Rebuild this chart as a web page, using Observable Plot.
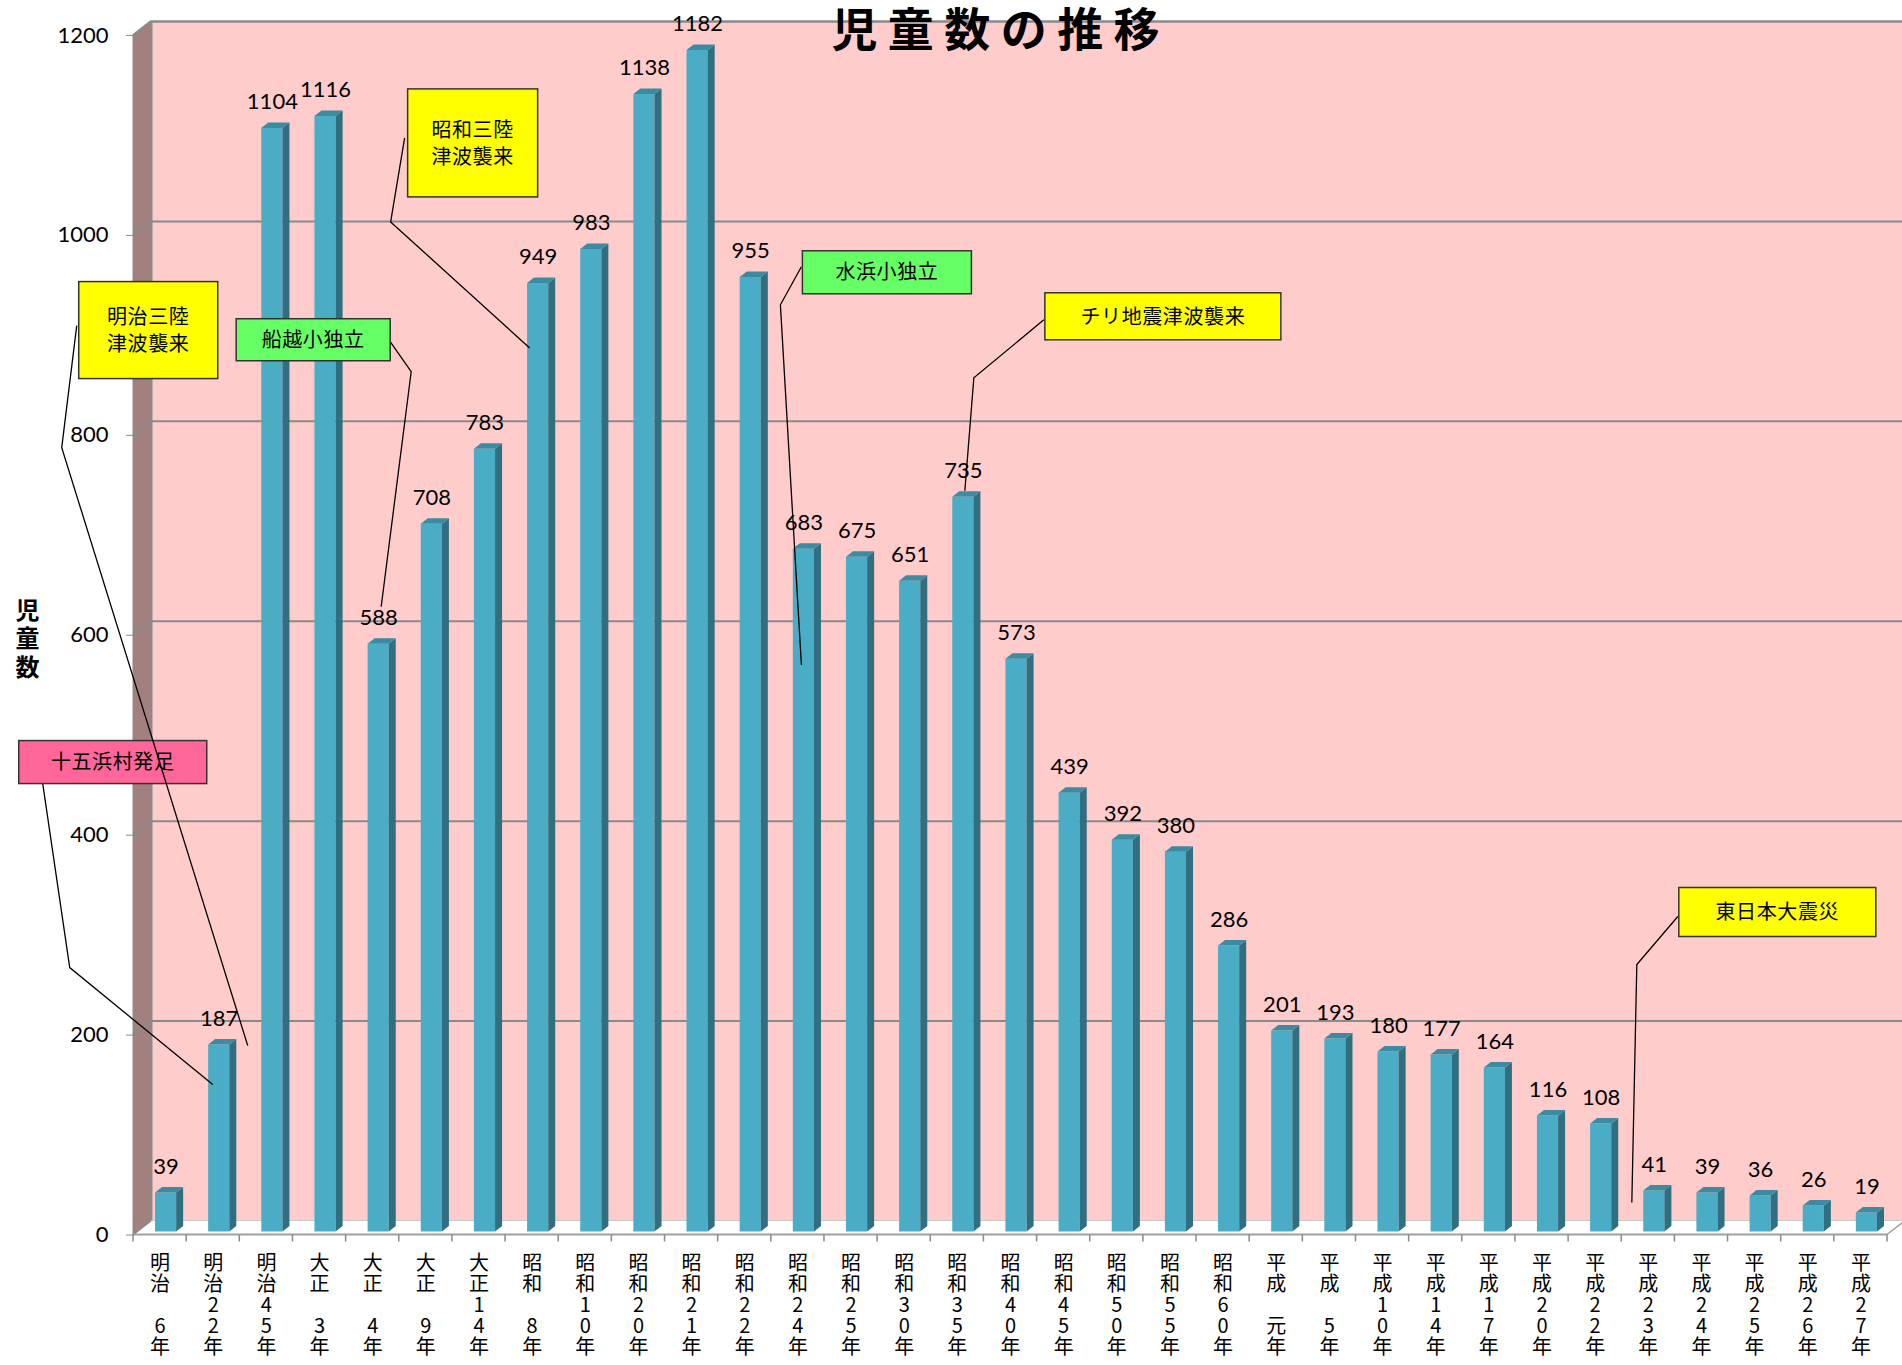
<!DOCTYPE html>
<html>
<head>
<meta charset="utf-8">
<script src="https://cdn.jsdelivr.net/npm/d3@7"></script>
<script src="https://cdn.jsdelivr.net/npm/@observablehq/plot@0.6"></script>
<style>
  html, body { margin: 0; padding: 0; background: #ffffff; }
  #chart svg { display: block; }
</style>
</head>
<body>
<div id="chart"></div>
<script>
// ---- data ----
const categories = ["明治6年","明治22年","明治45年","大正3年","大正4年","大正9年","大正14年","昭和8年","昭和10年","昭和20年","昭和21年","昭和22年","昭和24年","昭和25年","昭和30年","昭和35年","昭和40年","昭和45年","昭和50年","昭和55年","昭和60年","平成元年","平成5年","平成10年","平成14年","平成17年","平成20年","平成22年","平成23年","平成24年","平成25年","平成26年","平成27年"];
const counts = [39,187,1104,1116,588,708,783,949,983,1138,1182,955,683,675,651,735,573,439,392,380,286,201,193,180,177,164,116,108,41,39,36,26,19];
const yTicks = [0,200,400,600,800,1000,1200];
const titleText = "児 童 数 の 推 移";
const yLabelText = "児\n童\n数";

// callouts: anchor category/value; pixel offsets from the anchor for box and leader
const noteTexts = [["十五浜村発足"],["明治三陸","津波襲来"],["船越小独立"],["昭和三陸","津波襲来"],["水浜小独立"],["チリ地震津波襲来"],["東日本大震災"]];
const noteCats = ["明治22年","明治22年","大正4年","昭和8年","昭和24年","昭和35年","平成23年"];
const noteValues = [150,187,588,949,683,735,0];
const noteFills = ["#ff6699","#ffff00","#66ff66","#ffff00","#66ff66","#ffff00","#ffff00"];
const noteBoxes = [[-194,-344,188,43],[-134,-766,139,97],[-136,-328,154,42],[-124,-197,130,108],[5,-301,169,43],[88,-207,236,47],[31,-347,197,49]];
const notePaths = [
  [[-170,-301],[-143,-117],[0,0]],
  [[-136,-722],[-151,-600],[35,-2]],
  [[18,-305],[39,-275],[9,-40]],
  [[-127,-148],[-141,-64],[-2,62]],
  [[4,-285],[-17,-247],[4,113]],
  [[87,-180],[17,-122],[8,-9]],
  [[30,-318],[-11,-270],[-16,-32]]
];

const data = categories.map((c, i) => ({cat: c, n: counts[i]}));

// ---- geometry / style constants ----
const W = 1902, H = 1365;
const mL = 133, mR = 15, mT = 35, mB = 130.5;
const wallDX = 18, wallDY = -14;      // 3D depth of the walls
const barDX = 6, barDY = -3, barInset = 16;
const depthX = 7, depthY = -5.5;       // 3D depth of each column
const gridColor = "#8a8a8a";
const numFont = "Lato, 'Open Sans', sans-serif";
const jpFont = "'Noto Sans CJK JP', 'Noto Sans', sans-serif";

function vertical(c) {
  const m = c.match(/^(..)(.+)年$/);
  const chars = [...m[2]];
  if (chars.length === 1) chars.unshift(" ");
  return [m[1][0], m[1][1], ...chars, "年"].join("\n");
}

const chart = Plot.plot({
  width: W, height: H,
  marginLeft: mL, marginRight: mR, marginTop: mT, marginBottom: mB,
  style: {background: "transparent", fontFamily: numFont, color: "#000"},
  x: {domain: categories, padding: 0, round: false, axis: null},
  y: {domain: [0, 1200], axis: null},
  marks: [
    Plot.frame({fill: "#ffcccc", stroke: gridColor, strokeWidth: 2, dx: wallDX, dy: wallDY}),
    Plot.ruleY(yTicks, {stroke: gridColor, strokeWidth: 2, dx: wallDX, dy: wallDY}),
    Plot.barY(data, {x: "cat", y: "n", fill: "#4bacc6", insetLeft: barInset, insetRight: barInset, dx: barDX, dy: barDY}),
    Plot.text(data, {x: "cat", y: "n", text: d => String(d.n), dx: barDX, dy: barDY - 19, lineAnchor: "bottom", fontSize: 22, fontFamily: numFont, fill: "#000"}),
    Plot.axisY({ticks: yTicks, tickFormat: d => String(d), tickSize: 7, tickPadding: 18, fontSize: 22, fontFamily: numFont, stroke: gridColor, fill: "#000", label: null}),
    Plot.axisX({tickSize: 0, tickPadding: 20, fontSize: 20, lineHeight: 1.05, fontFamily: jpFont, fill: "#000", tickFormat: vertical, label: null}),
    Plot.text([titleText], {text: d => d, frameAnchor: "top", dx: -15, dy: -4, lineAnchor: "middle", textAnchor: "middle", fontSize: 46, fontWeight: "bold", fontFamily: jpFont, fill: "#000"}),
    Plot.text([yLabelText], {text: d => d, frameAnchor: "left", dx: -106, dy: 3, lineAnchor: "middle", textAnchor: "middle", fontSize: 24, fontWeight: "bold", lineHeight: 1.2, fontFamily: jpFont, fill: "#000"})
  ]
});
document.getElementById("chart").appendChild(chart);

// ---- 3D decorations using the plot's own scales ----
const sx = chart.scale("x"), sy = chart.scale("y");
const bw = sx.bandwidth;
const xs = sx.apply ? (c => sx.apply(c)) : d3.scaleBand(sx.domain, sx.range).padding(0);
const ys = sy.apply ? (v => sy.apply(v)) : d3.scaleLinear(sy.domain, sy.range);
const x0 = xs(categories[0]);
const x1 = xs(categories[categories.length - 1]) + bw;
const Y0 = ys(0), Ytop = ys(1200);
const svg = d3.select(chart.tagName.toLowerCase() === "svg" ? chart : chart.querySelector("svg"));
const pts = a => a.map(p => p.join(",")).join(" ");

// walls & floor, placed right after the gridlines
const ruleNode = svg.node().querySelector('g[aria-label="rule"]');
const walls = svg.append("g").attr("class", "walls");
if (ruleNode) ruleNode.after(walls.node());
walls.append("polygon")
  .attr("points", pts([[x0, Y0], [x0, Ytop], [x0 + wallDX, Ytop + wallDY], [x0 + wallDX, Y0 + wallDY]]))
  .attr("fill", "#a2807e").attr("stroke", gridColor).attr("stroke-width", 1);
walls.append("polygon")
  .attr("points", pts([[x0, Y0], [x1, Y0], [x1 + wallDX, Y0 + wallDY], [x0 + wallDX, Y0 + wallDY]]))
  .attr("fill", "#ffffff").attr("stroke", "#c8c8c8").attr("stroke-width", 1);
walls.append("line").attr("x1", x0).attr("x2", x1).attr("y1", Y0).attr("y2", Y0)
  .attr("stroke", "#a0a0a0").attr("stroke-width", 2);
walls.append("line").attr("x1", x1).attr("x2", x1 + wallDX).attr("y1", Y0).attr("y2", Y0 + wallDY)
  .attr("stroke", "#a0a0a0").attr("stroke-width", 1.5);
yTicks.forEach(v => {
  walls.append("line").attr("x1", x0).attr("y1", ys(v)).attr("x2", x0 + wallDX).attr("y2", ys(v) + wallDY)
    .attr("stroke", gridColor).attr("stroke-width", 2);
});
d3.range(categories.length + 1).forEach(i => {
  const bx = x0 + i * bw;
  walls.append("line").attr("x1", bx).attr("x2", bx).attr("y1", Y0).attr("y2", Y0 + 7)
    .attr("stroke", gridColor).attr("stroke-width", 1.5);
});

// column side and top faces
const barNode = svg.node().querySelector('g[aria-label="bar"]');
const faces = svg.append("g").attr("class", "faces");
if (barNode) barNode.after(faces.node());
data.forEach(d => {
  const fx0 = xs(d.cat) + barInset + barDX;
  const fx1 = xs(d.cat) + bw - barInset + barDX;
  const fy0 = ys(d.n) + barDY;
  const fy1 = ys(0) + barDY;
  faces.append("polygon")
    .attr("points", pts([[fx1, fy0], [fx1 + depthX, fy0 + depthY], [fx1 + depthX, fy1 + depthY], [fx1, fy1]]))
    .attr("fill", "#2f6f80");
  faces.append("polygon")
    .attr("points", pts([[fx0, fy0], [fx0 + depthX, fy0 + depthY], [fx1 + depthX, fy0 + depthY], [fx1, fy0]]))
    .attr("fill", "#3b8ca2");
});

// callouts
const notes = svg.append("g").attr("class", "callouts");
noteTexts.forEach((lines, k) => {
  const ax = xs(noteCats[k]) + bw / 2;
  const ay = ys(noteValues[k]);
  const path = notePaths[k].map(([dx, dy]) => [ax + dx, ay + dy]);
  notes.append("polyline").attr("points", pts(path))
    .attr("fill", "none").attr("stroke", "#000").attr("stroke-width", 1.3);
  const [bx, by, bwid, bht] = noteBoxes[k];
  notes.append("rect").attr("x", ax + bx).attr("y", ay + by).attr("width", bwid).attr("height", bht)
    .attr("fill", noteFills[k]).attr("stroke", "#333").attr("stroke-width", 1.5);
  const cx = ax + bx + bwid / 2, cy = ay + by + bht / 2;
  const lh = 27;
  lines.forEach((t, j) => {
    notes.append("text").attr("x", cx).attr("y", cy + (j - (lines.length - 1) / 2) * lh)
      .attr("text-anchor", "middle").attr("dy", "0.36em")
      .attr("font-family", jpFont).attr("font-size", 20).attr("letter-spacing", "0.6px")
      .attr("fill", "#000").text(t);
  });
});
</script>
</body>
</html>
